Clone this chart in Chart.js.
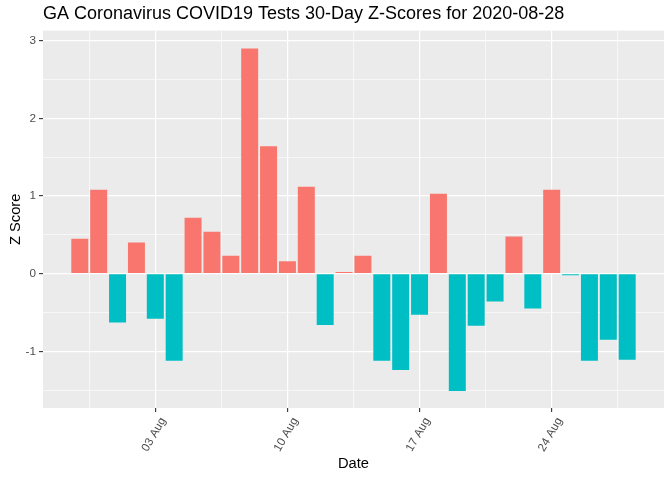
<!DOCTYPE html>
<html>
<head>
<meta charset="utf-8">
<script src="https://cdn.jsdelivr.net/npm/chart.js@4/dist/chart.umd.min.js"></script>
<style>
  html, body { margin: 0; padding: 0; background: #fff; }
  #wrap { width: 672px; height: 480px; }
</style>
</head>
<body>
<div id="wrap"><canvas id="zChart" width="672" height="480"></canvas></div>
<script>
const dates = [
  '2020-07-30', '2020-07-31', '2020-08-01', '2020-08-02', '2020-08-03',
  '2020-08-04', '2020-08-05', '2020-08-06', '2020-08-07', '2020-08-08',
  '2020-08-09', '2020-08-10', '2020-08-11', '2020-08-12', '2020-08-13',
  '2020-08-14', '2020-08-15', '2020-08-16', '2020-08-17', '2020-08-18',
  '2020-08-19', '2020-08-20', '2020-08-21', '2020-08-22', '2020-08-23',
  '2020-08-24', '2020-08-25', '2020-08-26', '2020-08-27', '2020-08-28'
];
const zScores = [
  0.45, 1.08, -0.63, 0.40, -0.58,
  -1.12, 0.72, 0.54, 0.23, 2.90,
  1.64, 0.16, 1.12, -0.66, 0.02,
  0.23, -1.12, -1.24, -0.53, 1.03,
  -1.51, -0.67, -0.36, 0.48, -0.45,
  1.08, -0.02, -1.12, -0.85, -1.11
];
const yTicks = [-1.5, -1, -0.5, 0, 0.5, 1, 1.5, 2, 2.5, 3];
// x positions in days from 03 Aug; labels every week
const xTicks = [-3.5, 0, 3.5, 7, 10.5, 14, 17.5, 21, 24.5];
const xTickLabels = { 0: '03 Aug', 7: '10 Aug', 14: '17 Aug', 21: '24 Aug' };

const DAY = 86400000;
const origin = Date.UTC(2020, 7, 3);
const dayOf = s => (Date.parse(s + 'T00:00:00Z') - origin) / DAY;

const points = dates.map((d, i) => ({ x: dayOf(d), y: zScores[i] }));

const panelBg = {
  id: 'panelBg',
  beforeDraw(chart) {
    const { ctx, chartArea: a } = chart;
    ctx.save();
    ctx.fillStyle = '#EBEBEB';
    ctx.fillRect(a.left, a.top, a.right - a.left, a.bottom - a.top);
    ctx.restore();
  }
};

const tv = c => (c && c.tick ? c.tick.value : NaN);
const xMajor = c => xTickLabels[tv(c)] !== undefined;
const yMajor = c => Number.isInteger(tv(c));

new Chart(document.getElementById('zChart').getContext('2d'), {
  type: 'bar',
  data: {
    datasets: [{
      data: points,
      backgroundColor: points.map(p => p.y > 0 ? '#F8766D' : '#00BFC4'),
      borderWidth: 0,
      barPercentage: 0.9,
      categoryPercentage: 1.0
    }]
  },
  options: {
    responsive: false,
    animation: false,
    layout: { padding: { left: 0, right: 8, top: 0, bottom: 0 } },
    plugins: {
      legend: { display: false },
      tooltip: { enabled: false },
      title: {
        display: true,
        text: 'GA Coronavirus COVID19 Tests 30-Day Z-Scores for 2020-08-28',
        align: 'start',
        fullSize: false,
        color: '#000',
        font: { family: 'Liberation Sans, Arial, sans-serif', size: 18, weight: 'normal' },
        padding: { top: 3, bottom: 6 }
      }
    },
    scales: {
      x: {
        type: 'linear',
        offset: false,
        min: -5.95,
        max: 26.95,
        afterBuildTicks: axis => { axis.ticks = xTicks.map(v => ({ value: v })); },
        afterFit: axis => { axis.height = 72; },
        grid: {
          offset: false,
          color: '#FFFFFF',
          lineWidth: c => (xMajor(c) ? 1.2 : 0.6),
          tickColor: c => (xMajor(c) ? '#333333' : 'rgba(0,0,0,0)'),
          tickLength: 4,
          tickWidth: 1.1
        },
        border: { display: false },
        ticks: {
          autoSkip: false,
          minRotation: 60,
          maxRotation: 60,
          padding: 3,
          labelOffset: 8,
          color: '#4D4D4D',
          font: { family: 'Liberation Sans, Arial, sans-serif', size: 11.7 },
          callback: v => xTickLabels[v] || ''
        },
        title: {
          display: true,
          text: 'Date',
          color: '#000',
          font: { family: 'Liberation Sans, Arial, sans-serif', size: 14.7 },
          padding: { top: 0, bottom: 7 }
        }
      },
      y: {
        min: -1.73,
        max: 3.13,
        afterBuildTicks: axis => { axis.ticks = yTicks.map(v => ({ value: v })); },
        afterFit: axis => { axis.width = 43; },
        grid: {
          color: '#FFFFFF',
          lineWidth: c => (yMajor(c) ? 1.2 : 0.6),
          tickColor: c => (yMajor(c) ? '#333333' : 'rgba(0,0,0,0)'),
          tickLength: 4,
          tickWidth: 1.1
        },
        border: { display: false },
        ticks: {
          padding: 3,
          color: '#4D4D4D',
          font: { family: 'Liberation Sans, Arial, sans-serif', size: 11.7 },
          callback: v => (Number.isInteger(v) ? String(v) : '')
        },
        title: {
          display: true,
          text: 'Z Score',
          color: '#000',
          font: { family: 'Liberation Sans, Arial, sans-serif', size: 14.7 },
          padding: { top: 7, bottom: 0 }
        }
      }
    }
  },
  plugins: [panelBg]
});
</script>
</body>
</html>
